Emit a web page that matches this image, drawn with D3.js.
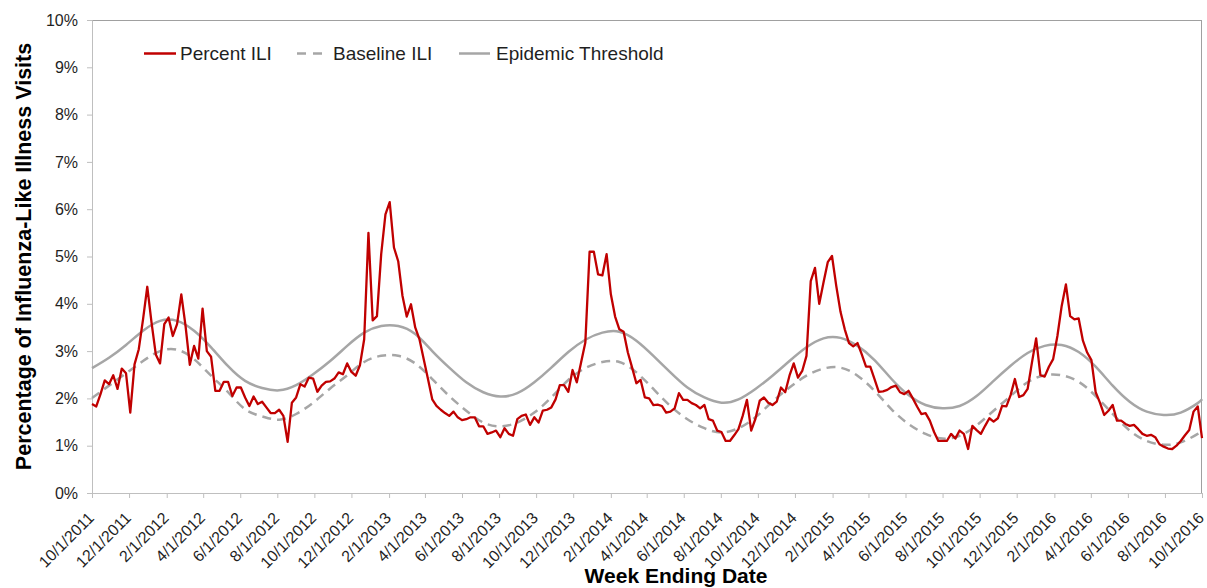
<!DOCTYPE html>
<html>
<head>
<meta charset="utf-8">
<script src="https://cdn.jsdelivr.net/npm/d3@7"></script>
<style>
  html, body { margin: 0; padding: 0; background: #ffffff; }
  svg { display: block; font-family: "Liberation Sans", Arial, Helvetica, sans-serif; }
</style>
</head>
<body>
<svg id="chart" width="1207" height="588"></svg>
<script>
// Weekly ILI surveillance, week ending 10/1/2011 through 10/1/2016
const firstWeekEnding = "10/1/2011";
const lastWeekEnding = "10/1/2016";

// Percent of visits for influenza-like illness, one value per week
const percentILI = [
  1.88, 1.83, 2.09, 2.38, 2.30, 2.49, 2.20, 2.63, 2.53, 1.70,
  2.72, 3.04, 3.67, 4.36, 3.60, 2.93, 2.74, 3.57, 3.71, 3.32,
  3.57, 4.20, 3.53, 2.71, 3.11, 2.84, 3.90, 3.00, 2.88, 2.16,
  2.16, 2.35, 2.35, 2.05, 2.23, 2.23, 2.02, 1.84, 2.04, 1.88,
  1.93, 1.81, 1.69, 1.69, 1.76, 1.63, 1.08, 1.91, 2.02, 2.30,
  2.25, 2.44, 2.42, 2.14, 2.27, 2.35, 2.36, 2.42, 2.55, 2.51,
  2.74, 2.56, 2.48, 2.70, 3.25, 5.50, 3.65, 3.74, 5.05, 5.89,
  6.15, 5.19, 4.90, 4.17, 3.73, 3.99, 3.50, 3.25, 2.83, 2.41,
  1.98, 1.84, 1.76, 1.69, 1.63, 1.72, 1.60, 1.54, 1.56, 1.60,
  1.60, 1.41, 1.41, 1.25, 1.28, 1.32, 1.18, 1.37, 1.25, 1.21,
  1.56, 1.63, 1.66, 1.44, 1.60, 1.49, 1.74, 1.76, 1.81, 1.98,
  2.28, 2.28, 2.14, 2.60, 2.34, 2.76, 3.18, 5.10, 5.10, 4.62,
  4.60, 5.05, 4.20, 3.73, 3.46, 3.41, 2.97, 2.65, 2.32, 2.39,
  2.02, 2.00, 1.86, 1.87, 1.84, 1.70, 1.72, 1.79, 2.11, 1.97,
  1.97, 1.90, 1.86, 1.79, 1.86, 1.56, 1.53, 1.32, 1.29, 1.10,
  1.10, 1.22, 1.35, 1.63, 1.97, 1.32, 1.57, 1.95, 2.02, 1.91,
  1.86, 1.93, 2.23, 2.13, 2.48, 2.74, 2.44, 2.58, 2.90, 4.48,
  4.76, 4.00, 4.45, 4.88, 5.01, 4.38, 3.83, 3.46, 3.17, 3.10,
  3.17, 2.93, 2.67, 2.67, 2.41, 2.14, 2.15, 2.18, 2.24, 2.27,
  2.13, 2.09, 2.16, 2.00, 1.83, 1.67, 1.69, 1.53, 1.29, 1.10,
  1.10, 1.10, 1.25, 1.15, 1.32, 1.25, 0.93, 1.42, 1.33, 1.25,
  1.42, 1.58, 1.51, 1.58, 1.84, 1.83, 2.07, 2.41, 2.03, 2.07,
  2.20, 2.75, 3.27, 2.49, 2.46, 2.67, 2.83, 3.32, 3.95, 4.41,
  3.74, 3.67, 3.69, 3.22, 2.97, 2.81, 2.13, 1.91, 1.65, 1.74,
  1.86, 1.53, 1.53, 1.46, 1.42, 1.44, 1.35, 1.25, 1.21, 1.23,
  1.18, 1.03, 0.98, 0.94, 0.93, 1.00, 1.10, 1.22, 1.33, 1.72,
  1.83, 1.16
];

// Seasonal baseline and epidemic threshold, sampled every four weeks
const curveWeeks = [
  0, 4, 8, 12, 16, 20, 24, 28, 32, 36, 40, 44, 48, 52, 56, 60, 64, 68, 72, 76,
  80, 84, 88, 92, 96, 100, 104, 108, 112, 116, 120, 124, 128, 132, 136, 140, 144, 148, 152, 156,
  160, 164, 168, 172, 176, 180, 184, 188, 192, 196, 200, 204, 208, 212, 216, 220, 224, 228, 232, 236,
  240, 244, 248, 252, 256, 260, 261
];
const baselineILI = [
  2.01, 2.27, 2.53, 2.79, 3.00, 3.03, 2.83, 2.48, 2.13, 1.77,
  1.62, 1.55, 1.67, 1.91, 2.21, 2.49, 2.77, 2.90, 2.90, 2.74,
  2.41, 2.05, 1.74, 1.49, 1.41, 1.49, 1.70, 2.02, 2.39, 2.64,
  2.77, 2.77, 2.55, 2.20, 1.84, 1.56, 1.37, 1.28, 1.37, 1.60,
  1.93, 2.23, 2.48, 2.63, 2.65, 2.48, 2.16, 1.77, 1.46, 1.25,
  1.15, 1.21, 1.43, 1.74, 2.05, 2.34, 2.49, 2.49, 2.35, 2.05,
  1.67, 1.32, 1.10, 1.02, 1.07, 1.25, 1.32
];
const epidemicThreshold = [
  2.64, 2.86, 3.13, 3.43, 3.64, 3.64, 3.43, 3.08, 2.68, 2.37,
  2.22, 2.17, 2.28, 2.51, 2.79, 3.11, 3.39, 3.53, 3.53, 3.36,
  3.00, 2.65, 2.34, 2.13, 2.04, 2.11, 2.34, 2.65, 2.98, 3.24,
  3.39, 3.41, 3.22, 2.90, 2.55, 2.23, 2.02, 1.91, 1.98, 2.20,
  2.48, 2.79, 3.08, 3.27, 3.28, 3.11, 2.81, 2.41, 2.07, 1.86,
  1.79, 1.84, 2.05, 2.37, 2.69, 2.96, 3.11, 3.13, 2.98, 2.67,
  2.27, 1.93, 1.72, 1.65, 1.70, 1.90, 1.98
];

const xTickLabels = [
  "10/1/2011", "12/1/2011", "2/1/2012", "4/1/2012", "6/1/2012", "8/1/2012",
  "10/1/2012", "12/1/2012", "2/1/2013", "4/1/2013", "6/1/2013", "8/1/2013",
  "10/1/2013", "12/1/2013", "2/1/2014", "4/1/2014", "6/1/2014", "8/1/2014",
  "10/1/2014", "12/1/2014", "2/1/2015", "4/1/2015", "6/1/2015", "8/1/2015",
  "10/1/2015", "12/1/2015", "2/1/2016", "4/1/2016", "6/1/2016", "8/1/2016",
  "10/1/2016"
];
const yTickValues = [0, 1, 2, 3, 4, 5, 6, 7, 8, 9, 10];

const seriesNames = ["Percent ILI", "Baseline ILI", "Epidemic Threshold"];
const xTitle = "Week Ending Date";
const yTitle = "Percentage of Influenza-Like Illness Visits";

// ---------------------------------------------------------------------------
const parseDate = d3.timeParse("%m/%d/%Y");
const start = parseDate(firstWeekEnding);
const weekDate = w => d3.timeDay.offset(start, 7 * w);

const iliData = percentILI.map((v, i) => ({ date: weekDate(i), value: v }));
const baseData = baselineILI.map((v, i) => ({ date: weekDate(curveWeeks[i]), value: v }));
const threshData = epidemicThreshold.map((v, i) => ({ date: weekDate(curveWeeks[i]), value: v }));

const plot = { left: 92, right: 1202, top: 20, bottom: 493 };

const x = d3.scaleTime()
  .domain([start, parseDate(lastWeekEnding)])
  .range([plot.left, plot.right]);
const y = d3.scaleLinear()
  .domain([0, 10])
  .range([plot.bottom, plot.top]);

const svg = d3.select("#chart");
const RED = "#c00000";
const GREY = "#a6a6a6";
const TEXT = "#1f1f1f";

// plot area frame
svg.append("rect")
  .attr("x", plot.left + 0.5)
  .attr("y", plot.top + 0.5)
  .attr("width", plot.right - plot.left - 1)
  .attr("height", plot.bottom - plot.top)
  .attr("fill", "none")
  .attr("stroke", "#a0a0a0")
  .attr("stroke-width", 1);

// y axis
const yAxis = svg.append("g")
  .attr("transform", `translate(${plot.left},0)`)
  .call(d3.axisLeft(y).tickValues(yTickValues).tickFormat(d => d + "%").tickSize(5).tickPadding(9));
yAxis.select(".domain").attr("stroke", "#bfbfbf");
yAxis.selectAll(".tick line").attr("stroke", "#bfbfbf");
yAxis.selectAll(".tick text")
  .attr("fill", TEXT)
  .style("font-size", "16px")
  .style("font-family", '"Liberation Sans", Arial, sans-serif');

// x axis with diagonal date labels
const xAxis = svg.append("g")
  .attr("transform", `translate(0,${plot.bottom})`)
  .call(d3.axisBottom(x)
    .tickValues(xTickLabels.map(parseDate))
    .tickFormat((d, i) => xTickLabels[i])
    .tickSize(5));
xAxis.select(".domain").attr("stroke", "#bfbfbf");
xAxis.selectAll(".tick line").attr("stroke", "#bfbfbf");
xAxis.selectAll(".tick text")
  .attr("fill", TEXT)
  .attr("x", 0)
  .attr("y", 0)
  .attr("dy", "0.35em")
  .attr("text-anchor", "end")
  .attr("transform", "translate(-1.5,22) rotate(-45)")
  .style("font-size", "16px")
  .style("font-family", '"Liberation Sans", Arial, sans-serif');

// axis titles
svg.append("text")
  .attr("x", 676)
  .attr("y", 583)
  .attr("text-anchor", "middle")
  .attr("fill", "#000")
  .style("font-size", "21px")
  .style("font-weight", "bold")
  .text(xTitle);

svg.append("text")
  .attr("transform", `translate(31,${(plot.top + plot.bottom) / 2}) rotate(-90)`)
  .attr("text-anchor", "middle")
  .attr("fill", "#000")
  .style("font-size", "21.5px")
  .style("font-weight", "bold")
  .text(yTitle);

// series
const smooth = d3.line()
  .x(d => x(d.date))
  .y(d => y(d.value))
  .curve(d3.curveNatural);

svg.append("path")
  .datum(baseData)
  .attr("d", smooth)
  .attr("fill", "none")
  .attr("stroke", GREY)
  .attr("stroke-width", 2.5)
  .attr("stroke-dasharray", "9,6");

svg.append("path")
  .datum(threshData)
  .attr("d", smooth)
  .attr("fill", "none")
  .attr("stroke", GREY)
  .attr("stroke-width", 2.5);

const weekly = d3.line()
  .x(d => x(d.date))
  .y(d => y(d.value));

svg.append("path")
  .datum(iliData)
  .attr("d", weekly)
  .attr("fill", "none")
  .attr("stroke", RED)
  .attr("stroke-width", 2.3)
  .attr("stroke-linejoin", "round");

// legend
const legendItems = [
  { name: seriesNames[0], x1: 144, x2: 176, tx: 180, color: RED, dash: null },
  { name: seriesNames[1], x1: 297, x2: 325, tx: 333, color: GREY, dash: "9,7" },
  { name: seriesNames[2], x1: 459, x2: 490, tx: 496, color: GREY, dash: null }
];
const legend = svg.append("g");
legendItems.forEach(it => {
  legend.append("line")
    .attr("x1", it.x1).attr("x2", it.x2)
    .attr("y1", 53.5).attr("y2", 53.5)
    .attr("stroke", it.color)
    .attr("stroke-width", 2.5)
    .attr("stroke-dasharray", it.dash);
  legend.append("text")
    .attr("x", it.tx)
    .attr("y", 60)
    .attr("fill", TEXT)
    .style("font-size", "19px")
    .text(it.name);
});
</script>
</body>
</html>
